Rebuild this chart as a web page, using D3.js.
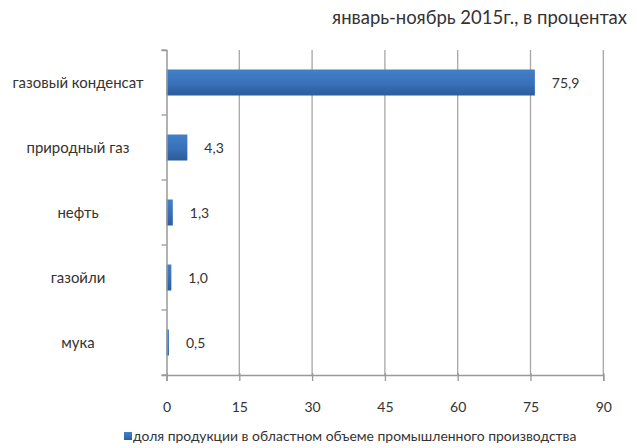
<!DOCTYPE html>
<html><head><meta charset="utf-8">
<script src="https://cdn.jsdelivr.net/npm/d3@7"></script>
<style>body{margin:0;background:#fff}text{font-family:Lato,"Open Sans",sans-serif;fill:#333}</style>
</head><body><svg id="c" width="637" height="448"></svg>
<script>
const categories = ["газовый конденсат","природный газ","нефть","газойли","мука"];
const values = [75.9, 4.3, 1.3, 1.0, 0.5];
const valueLabels = ["75,9","4,3","1,3","1,0","0,5"];
const xTicks = [0,15,30,45,60,75,90];
const title = "январь-ноябрь 2015г., в процентах";
const legendLabel = "доля продукции в областном объеме промышленного производства";

const svg = d3.select("#c");
const defs = svg.append("defs");
const g = defs.append("linearGradient").attr("id","bg").attr("x1",0).attr("x2",0).attr("y1",0).attr("y2",1);
g.append("stop").attr("offset","0%").attr("stop-color","#4180c8");
g.append("stop").attr("offset","50%").attr("stop-color","#3a72ba");
g.append("stop").attr("offset","100%").attr("stop-color","#2b5c9c");

const x = d3.scaleLinear().domain([0,90]).range([166.5,603.3]);
const yb = d3.scaleBand().domain(categories).range([50,375]);

function fit(sel, target){
  const w = sel.node().getComputedTextLength();
  const fs = parseFloat(sel.attr("font-size"));
  sel.attr("font-size", fs*target/w);
}

// gridlines
svg.append("g").selectAll("line").data(xTicks.slice(1)).join("line")
  .attr("x1",d=>x(d)).attr("x2",d=>x(d)).attr("y1",50).attr("y2",375)
  .attr("stroke","#a6a6a6").attr("stroke-width",1.3);

// bars
svg.append("g").selectAll("rect").data(values).join("rect")
  .attr("x",x(0)).attr("width",d=>x(d)-x(0))
  .attr("y",(d,i)=>yb(categories[i])+yb.bandwidth()/2-13).attr("height",26)
  .attr("fill","url(#bg)");

// value labels
svg.append("g").selectAll("text").data(values).join("text")
  .attr("x",d=>x(d)+17).attr("y",(d,i)=>yb(categories[i])+yb.bandwidth()/2+5)
  .attr("font-size",14).text((d,i)=>valueLabels[i]);

// axes
const ax = svg.append("g").attr("transform","translate(0,375)")
  .call(d3.axisBottom(x).tickValues(xTicks).tickSize(6).tickPadding(21).tickFormat(d=>d));
ax.select(".domain").attr("stroke","#999").attr("stroke-width",1.5);
ax.selectAll(".tick line").attr("stroke","#999").attr("stroke-width",1.3).attr("y1",-2);
ax.selectAll(".tick text").attr("font-size",14).attr("fill","#333").attr("font-family","Lato");

const ay = svg.append("g").attr("transform","translate(166.5,0)")
  .call(d3.axisLeft(yb).tickSize(5).tickFormat(""));
ay.select(".domain").attr("stroke","#999").attr("stroke-width",1.5);
ay.selectAll(".tick line").remove();
ay.selectAll(".t").data(d3.range(categories.length+1)).join("line")
  .attr("x1",-5).attr("x2",0)
  .attr("y1",i=>50+i*yb.step()).attr("y2",i=>50+i*yb.step())
  .attr("stroke","#999").attr("stroke-width",1.3);

// category labels
const cl = svg.append("g").selectAll("text").data(categories).join("text")
  .attr("x",78).attr("y",d=>yb(d)+yb.bandwidth()/2+5)
  .attr("text-anchor","middle").attr("font-size",13).text(d=>d);
fit(d3.select(cl.nodes()[0]),131);
cl.attr("font-size", d3.select(cl.nodes()[0]).attr("font-size"));

// title
const t = svg.append("text").attr("x",627).attr("y",24).attr("text-anchor","end")
  .attr("font-size",15).text(title);
fit(t,295);

// legend
svg.append("rect").attr("x",124).attr("y",432).attr("width",8).attr("height",8).attr("fill","url(#bg)");
const lg = svg.append("text").attr("x",133).attr("y",440.5).attr("font-size",12).text(legendLabel);
fit(lg,444);
</script></body></html>
